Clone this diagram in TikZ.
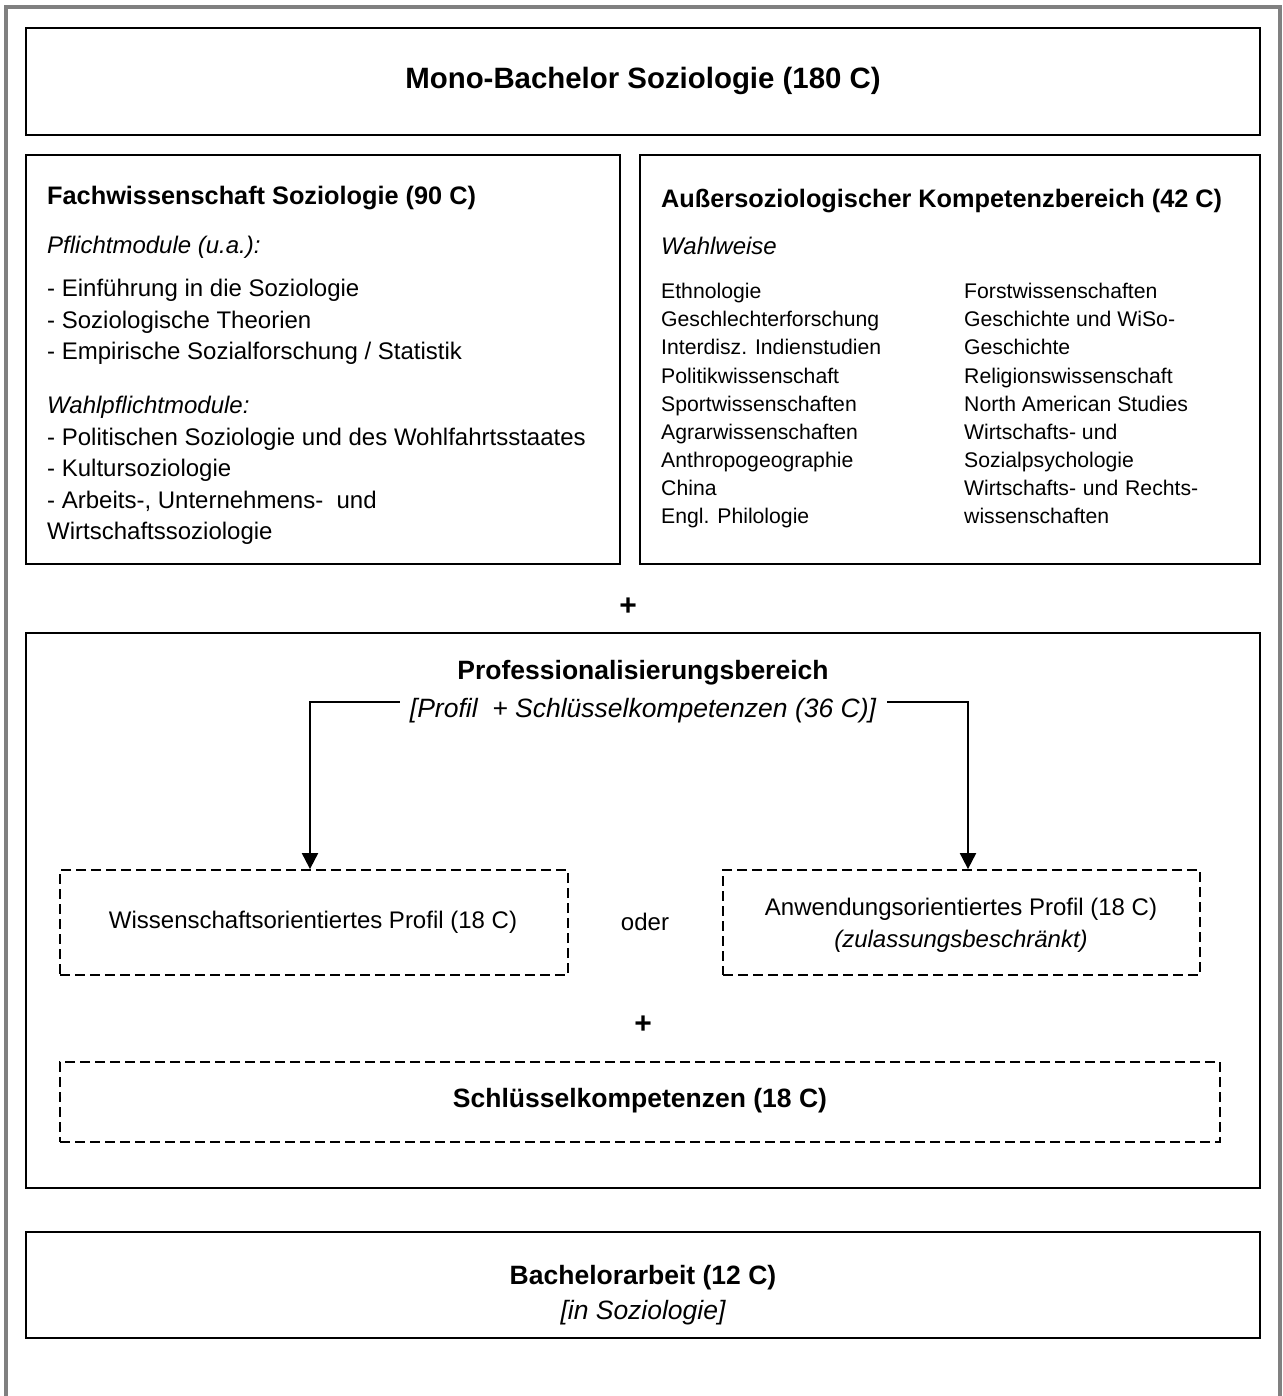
\documentclass[tikz,border=0pt]{standalone}
\usepackage{fontspec}
\setmainfont{Liberation Sans}
\usetikzlibrary{arrows.meta}
\begin{document}
\begin{tikzpicture}[x=1pt,y=-1pt,
  box/.style={draw=black,line width=2pt,minimum width=#1,inner sep=0pt},
  dbox/.style={draw=black,line width=1.8pt,dash pattern=on 10pt off 5pt,inner sep=0pt},
  body/.style={font=\fontsize{24}{28}\selectfont,inner sep=0pt},
  big/.style={font=\fontsize{26.5}{30}\selectfont,inner sep=0pt},
  small/.style={font=\fontsize{21.2}{25}\selectfont,inner sep=0pt},
  head/.style={font=\fontsize{25.3}{28}\selectfont\bfseries,inner sep=0pt},
  chead/.style={font=\fontsize{26.5}{30}\selectfont\bfseries,inner sep=0pt},
  arr/.style={line width=2pt,-{Triangle[width=16pt,length=16pt]}}]
\useasboundingbox (0,0) rectangle (1282,1396);
\fill[white] (0,0) rectangle (1282,1396);
% outer gray frame
\draw[line width=4pt,color=black!50] (6,1396) -- (6,7) -- (1279.5,7) -- (1279.5,1396);
% boxes
\node[box=1234pt,minimum height=107pt] (tbox) at (643,81.5) {};
\node[box=594pt,minimum height=409pt] (lbox) at (323,359.5) {};
\node[box=620pt,minimum height=409pt] (rbox) at (950,359.5) {};
\node[box=1234pt,minimum height=555pt] (pbox) at (643,910.5) {};
\node[box=1234pt,minimum height=106pt] (bbox) at (643,1285) {};
\node[dbox,minimum width=508pt,minimum height=105pt] (wprof) at (314,922.5) {};
\node[dbox,minimum width=477pt,minimum height=105pt] (aprof) at (961.5,922.5) {};
\node[dbox,minimum width=1160pt,minimum height=80pt] (skbox) at (640,1102) {};
% title
\node[font=\fontsize{29.4}{32}\selectfont\bfseries,inner sep=0pt] (title) at (643,81) {Mono-Bachelor Soziologie (180 C)};
% left box
\node[head,anchor=base west] (lhead) at (47,205) {Fachwissenschaft Soziologie (90 C)};
\node[body,anchor=base west] (pflicht) at (47,253.6) {\itshape Pflichtmodule (u.a.):};
\foreach \t [count=\i] in {{- Einführung in die Soziologie},{- Soziologische Theorien},{- Empirische Sozialforschung / Statistik}}
  \node[body,anchor=base west] (pl\i) at (47,{296.6+31.5*(\i-1)}) {\t};
\node[body,anchor=base west] (wahlpf) at (47,413.6) {\itshape Wahlpflichtmodule:};
\foreach \t [count=\i] in {{- Politischen Soziologie und des Wohlfahrtsstaates},{- Kultursoziologie},{- Arbeits-, Unternehmens-\ \ und},{Wirtschaftssoziologie}}
  \node[body,anchor=base west] (wl\i) at (47,{445.6+31.3*(\i-1)}) {\t};
% right box
\node[head,anchor=base west] (rhead) at (661,208) {Außersoziologischer Kompetenzbereich (42 C)};
\node[body,anchor=base west] (wahlw) at (661,254.6) {\itshape Wahlweise};
\foreach \t [count=\i] in {Ethnologie,Geschlechterforschung,Interdisz. Indienstudien,Politikwissenschaft,Sportwissenschaften,Agrarwissenschaften,Anthropogeographie,China,Engl. Philologie}
  \node[small,anchor=base west] (ca\i) at (661,{298.7+28.1*(\i-1)}) {\t};
\foreach \t [count=\i] in {Forstwissenschaften,Geschichte und WiSo-,Geschichte,Religionswissenschaft,North American Studies,Wirtschafts- und,Sozialpsychologie,{\makebox[234pt][s]{Wirtschafts- und Rechts-}},wissenschaften}
  \node[small,anchor=base west] (cb\i) at (964,{298.7+28.1*(\i-1)}) {\t};
% plus
\node[font=\fontsize{30}{32}\selectfont\bfseries,inner sep=0pt] (plus1) at (628,607) {+};
% professionalisierung
\node[chead] (phead) at (643,673) {Professionalisierungsbereich};
\node[big] (plab) at (643,711) {\itshape [Profil\ \ + Schlüsselkompetenzen (36 C)]};
\draw[arr] ([xshift=-10pt,yshift=9pt]plab.west) -| ([xshift=-4pt]wprof.north);
\draw[arr] ([xshift=11pt,yshift=9pt]plab.east) -| ([xshift=6.5pt]aprof.north);
\node[body] (wtext) at (313,922) {Wissenschaftsorientiertes Profil (18 C)};
\node[body] (oder) at (645,922) {oder};
\node[body] (atext1) at (961,909) {Anwendungsorientiertes Profil (18 C)};
\node[body] (atext2) at (961,941) {\itshape (zulassungsbeschränkt)};
\node[font=\fontsize{30}{32}\selectfont\bfseries,inner sep=0pt] (plus2) at (643,1025) {+};
\node[chead] (sktext) at (640,1101) {Schlüsselkompetenzen (18 C)};
% bachelorarbeit
\node[chead] (btext) at (643,1278) {Bachelorarbeit (12 C)};
\node[big] (btext2) at (643,1313) {\itshape [in Soziologie]};
\end{tikzpicture}
\end{document}
